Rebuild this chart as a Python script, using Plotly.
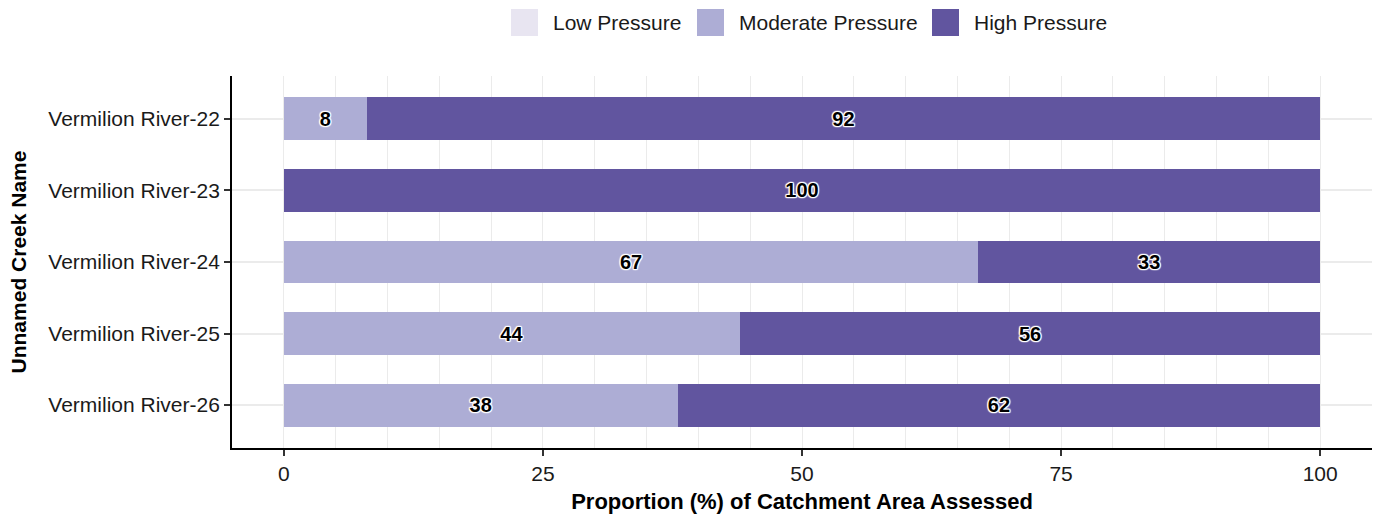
import plotly.graph_objects as go

# Creek reaches (top to bottom) and pressure class shares (% of catchment area)
creeks = ["Vermilion River-22", "Vermilion River-23", "Vermilion River-24",
          "Vermilion River-25", "Vermilion River-26"]
pressure_classes = ["Low Pressure", "Moderate Pressure", "High Pressure"]
low_pressure = [0, 0, 0, 0, 0]
moderate_pressure = [8, 0, 67, 44, 38]
high_pressure = [92, 100, 33, 56, 62]

class_colors = ["#e8e5f1", "#adadd5", "#61559f"]
class_values = [low_pressure, moderate_pressure, high_pressure]

W, H = 1377, 518
ML, MR, MT, MB = 232, 5, 76, 70
PLOT_W, PLOT_H = W - ML - MR, H - MT - MB


def px_to_paper_x(px):
    return (px - ML) / PLOT_W


def px_to_paper_y(py):
    return (H - MB - py) / PLOT_H


halo = ("1px 1px 1px white, -1px -1px 1px white, 1px -1px 1px white, "
        "-1px 1px 1px white, 0px 1px 1px white, 0px -1px 1px white, "
        "1px 0px 1px white, -1px 0px 1px white")

fig = go.Figure()
for name, vals, color in zip(pressure_classes, class_values, class_colors):
    fig.add_trace(go.Bar(
        y=creeks, x=vals, name=name, orientation="h",
        marker=dict(color=color, line=dict(width=0)),
        width=0.6,
        text=[str(v) if v > 0 else "" for v in vals],
        textposition="inside", insidetextanchor="middle",
        textangle=0,
        textfont=dict(family="Liberation Sans", size=20, color="black",
                      weight="bold", shadow=halo),
        constraintext="none",
        showlegend=False,
        hoverinfo="skip",
    ))

# Legend drawn as square keys with labels across the top
key_left_px = [511, 697, 932]
key_size = 27
key_center_py = 22.5
shapes, annotations = [], []
for name, color, kx in zip(pressure_classes, class_colors, key_left_px):
    shapes.append(dict(
        type="rect", xref="paper", yref="paper",
        x0=px_to_paper_x(kx), x1=px_to_paper_x(kx + key_size),
        y0=px_to_paper_y(key_center_py + key_size / 2),
        y1=px_to_paper_y(key_center_py - key_size / 2),
        fillcolor=color, line=dict(width=0), layer="above",
    ))
    annotations.append(dict(
        text=name, xref="paper", yref="paper",
        x=px_to_paper_x(kx + key_size + 13), y=px_to_paper_y(key_center_py),
        xanchor="left", yanchor="middle", showarrow=False,
        font=dict(family="Liberation Sans", size=21, color="#1a1a1a"),
    ))

fig.update_layout(
    barmode="stack",
    width=W, height=H,
    margin=dict(l=ML, r=MR, t=MT, b=MB),
    plot_bgcolor="white", paper_bgcolor="white",
    font=dict(family="Liberation Sans", size=21, color="#1a1a1a"),
    showlegend=False,
    shapes=shapes,
    annotations=annotations,
    xaxis=dict(
        range=[-5, 105], tickvals=[0, 25, 50, 75, 100],
        showgrid=True, gridcolor="#ebebeb", gridwidth=1.2,
        minor=dict(dtick=5, tick0=0, showgrid=True, gridcolor="#ebebeb",
                   gridwidth=1.2, ticks=""),
        zeroline=False,
        showline=True, linecolor="black", linewidth=1.8,
        ticks="outside", tickcolor="#333333", ticklen=6, tickwidth=1.5,
        tickfont=dict(size=21, color="#1a1a1a"),
        title=dict(text="<b>Proportion (%) of Catchment Area Assessed</b>",
                   font=dict(size=22, color="black"), standoff=10),
    ),
    yaxis=dict(
        categoryorder="array", categoryarray=creeks[::-1],
        range=[-0.6, 4.6],
        showgrid=True, gridcolor="#ebebeb", gridwidth=1.8,
        zeroline=False,
        showline=True, linecolor="black", linewidth=1.8,
        ticks="outside", tickcolor="#333333", ticklen=6, tickwidth=1.5,
        tickfont=dict(size=21, color="#1a1a1a"),
        title=dict(text="<b>Unnamed Creek Name</b>",
                   font=dict(size=21, color="black"), standoff=16),
    ),
)

fig.write_html("out.html")
